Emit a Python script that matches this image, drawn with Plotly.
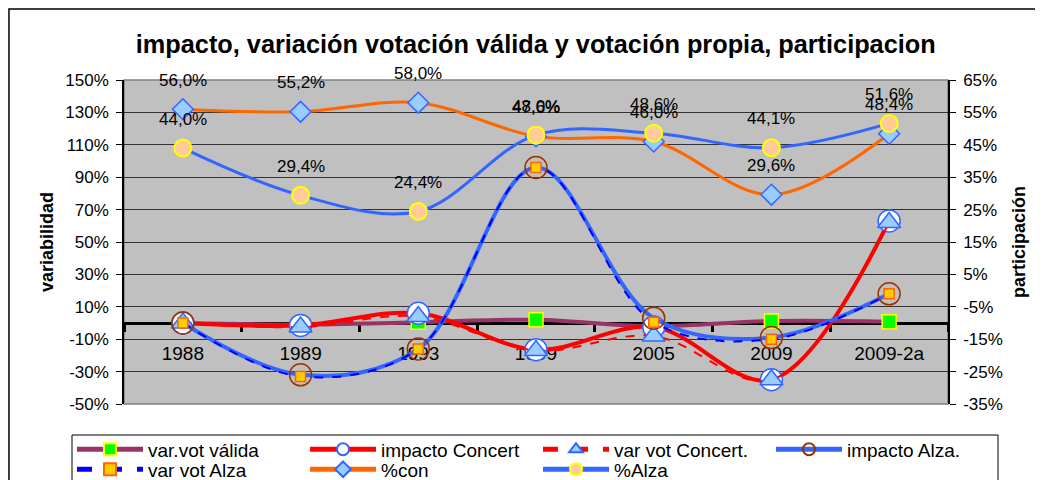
import plotly.graph_objects as go

categories = ["1988", "1989", "1993", "1999", "2005", "2009", "2009-2a"]

# primary axis (variabilidad, %)
var_vot_valida = [0.0, -1.0, 0.5, 2.0, -2.0, 1.2, 0.8]
impacto_concert = [0.0, -1.5, 6.0, -16.5, -2.5, -35.0, 63.0]
var_vot_concert = [0.0, -2.5, 4.0, -17.0, -8.0, -35.0, 62.0]
impacto_alza = [0.0, -32.0, -16.0, 96.0, 3.0, -9.0, 18.0]
var_vot_alza = [0.0, -33.0, -16.0, 96.0, 0.5, -10.0, 18.0]

# secondary axis (participación, %)
pct_con = [56.0, 55.2, 58.0, 47.6, 46.0, 29.6, 48.4]
pct_alza = [44.0, 29.4, 24.4, 48.0, 48.6, 44.1, 51.6]

left_ticks = list(range(-50, 151, 20))
right_ticks = list(range(-35, 66, 10))

FONT = "Liberation Sans, Arial, sans-serif"

fig = go.Figure()

fig.add_trace(go.Scatter(
    x=categories, y=var_vot_valida, name="var.vot válida", mode="lines+markers", legend="legend",
    line=dict(color="#993366", width=4, shape="spline", smoothing=1),
    marker=dict(symbol="square", size=14, color="#00ff00", line=dict(color="#ffff00", width=1.5)),
))
fig.add_trace(go.Scatter(
    x=categories, y=impacto_concert, name="impacto Concert", mode="lines+markers", legend="legend",
    line=dict(color="#ff0000", width=4, shape="spline", smoothing=1),
    marker=dict(symbol="circle", size=22, color="#ffffff", line=dict(color="#3366ff", width=1.5)),
))
fig.add_trace(go.Scatter(
    x=categories, y=var_vot_concert, name="var vot Concert.", mode="lines+markers", legend="legend",
    line=dict(color="#ff0000", width=2, dash="dash", shape="spline", smoothing=1),
    marker=dict(symbol="triangle-up", size=20, color="#99ccff", line=dict(color="#3366ff", width=1.5)),
))
fig.add_trace(go.Scatter(
    x=categories, y=impacto_alza, name="impacto Alza.", mode="lines+markers", legend="legend",
    line=dict(color="#3366ff", width=4, shape="spline", smoothing=1),
    marker=dict(symbol="circle", size=22, color="rgba(0,0,0,0)", line=dict(color="#993300", width=1.5)),
))
fig.add_trace(go.Scatter(
    x=categories, y=var_vot_alza, name="var vot Alza", mode="lines+markers", legend="legend2",
    line=dict(color="#0000ff", width=2, dash="dash", shape="spline", smoothing=1),
    marker=dict(symbol="square", size=10, color="#ffcc00", line=dict(color="#ff6600", width=1.5)),
))
fig.add_trace(go.Scatter(
    x=categories, y=pct_con, name="%con", mode="lines+markers", yaxis="y2", legend="legend2",
    line=dict(color="#ff6600", width=3, shape="spline", smoothing=1),
    marker=dict(symbol="diamond", size=16, color="#99ccff", line=dict(color="#3366ff", width=1.5)),
))
fig.add_trace(go.Scatter(
    x=categories, y=pct_alza, name="%Alza", mode="lines+markers", yaxis="y2", legend="legend2",
    line=dict(color="#3366ff", width=3, shape="spline", smoothing=1),
    marker=dict(symbol="circle", size=17, color="#ffcc99", line=dict(color="#ffff00", width=2)),
))

def fmt(v):
    return f"{v:.1f}%".replace(".", ",")

annotations = []
for series in (pct_con, pct_alza):
    for i, v in enumerate(series):
        annotations.append(dict(
            x=i, y=v, xref="x", yref="y2", text=fmt(v), showarrow=False,
            yshift=29, font=dict(family=FONT, size=17, color="#000000"),
        ))

legend_common = dict(
    orientation="h", x=-0.0631, xanchor="left", yanchor="top",
    itemwidth=66, entrywidth=152, bgcolor="rgba(0,0,0,0)", borderwidth=0,
    itemsizing="constant",
    font=dict(family=FONT, size=19, color="#000000"), tracegroupgap=0,
)

fig.update_layout(
    width=1043, height=480,
    margin=dict(l=116, r=103, t=72, b=84, autoexpand=False),
    paper_bgcolor="#ffffff", plot_bgcolor="#c0c0c0",
    font=dict(family=FONT, size=17, color="#000000"),
    title=dict(
        text="<b>impacto, variación votación válida y votación propia, participacion</b>",
        x=0.506, xanchor="center", y=1 - 36 / 480, yanchor="middle",
        font=dict(family=FONT, size=25.3, color="#000000"),
    ),
    xaxis=dict(
        type="category", range=[-0.5, 6.5], anchor="free", position=0.25,
        showline=True, linecolor="#000000", linewidth=3,
        ticks="outside", tickson="boundaries", ticklen=7, tickwidth=3, tickcolor="#000000",
        showgrid=False, zeroline=False, layer="below traces", ticklabelstandoff=12,
        tickfont=dict(family=FONT, size=19, color="#000000"),
    ),
    yaxis=dict(
        range=[-50, 150], tickvals=left_ticks, ticktext=[f"{t}%" for t in left_ticks],
        showline=True, linecolor="#000000", linewidth=1.5,
        ticks="outside", ticklen=6, tickcolor="#000000",
        showgrid=True, gridcolor="#333333", gridwidth=1, zeroline=False,
        layer="below traces", ticklabelstandoff=4,
        title=dict(text="<b>variabilidad</b>", font=dict(family=FONT, size=18), standoff=7),
        tickfont=dict(family=FONT, size=17, color="#000000"),
    ),
    yaxis2=dict(
        range=[-35, 65], tickvals=right_ticks, ticktext=[f"{t}%" for t in right_ticks],
        overlaying="y", side="right", anchor="x",
        showline=True, linecolor="#000000", linewidth=1.5,
        ticks="outside", ticklen=6, tickcolor="#000000",
        showgrid=False, zeroline=False, layer="below traces", ticklabelstandoff=4,
        title=dict(text="<b>participación</b>", font=dict(family=FONT, size=18), standoff=11),
        tickfont=dict(family=FONT, size=17, color="#000000"),
    ),
    legend=dict(y=-0.0815, **legend_common),
    legend2=dict(y=-0.1432, **legend_common),
    annotations=annotations,
    shapes=[
        dict(type="rect", xref="paper", yref="paper", x0=0, x1=1, y0=0, y1=1,
             line=dict(color="#808080", width=1.5), layer="below"),
        dict(type="rect", xref="paper", yref="paper", x0=-0.1396, x1=1.5, y0=-1.0, y1=1.2191,
             line=dict(color="#000000", width=1.5), layer="below"),
        dict(type="rect", xref="paper", yref="paper", x0=-0.0631, x1=1.0607, y0=-1.0, y1=-0.0957,
             line=dict(color="#000000", width=1), fillcolor="#ffffff", layer="below"),
    ],
    showlegend=True,
)

fig.write_html("out.html")
